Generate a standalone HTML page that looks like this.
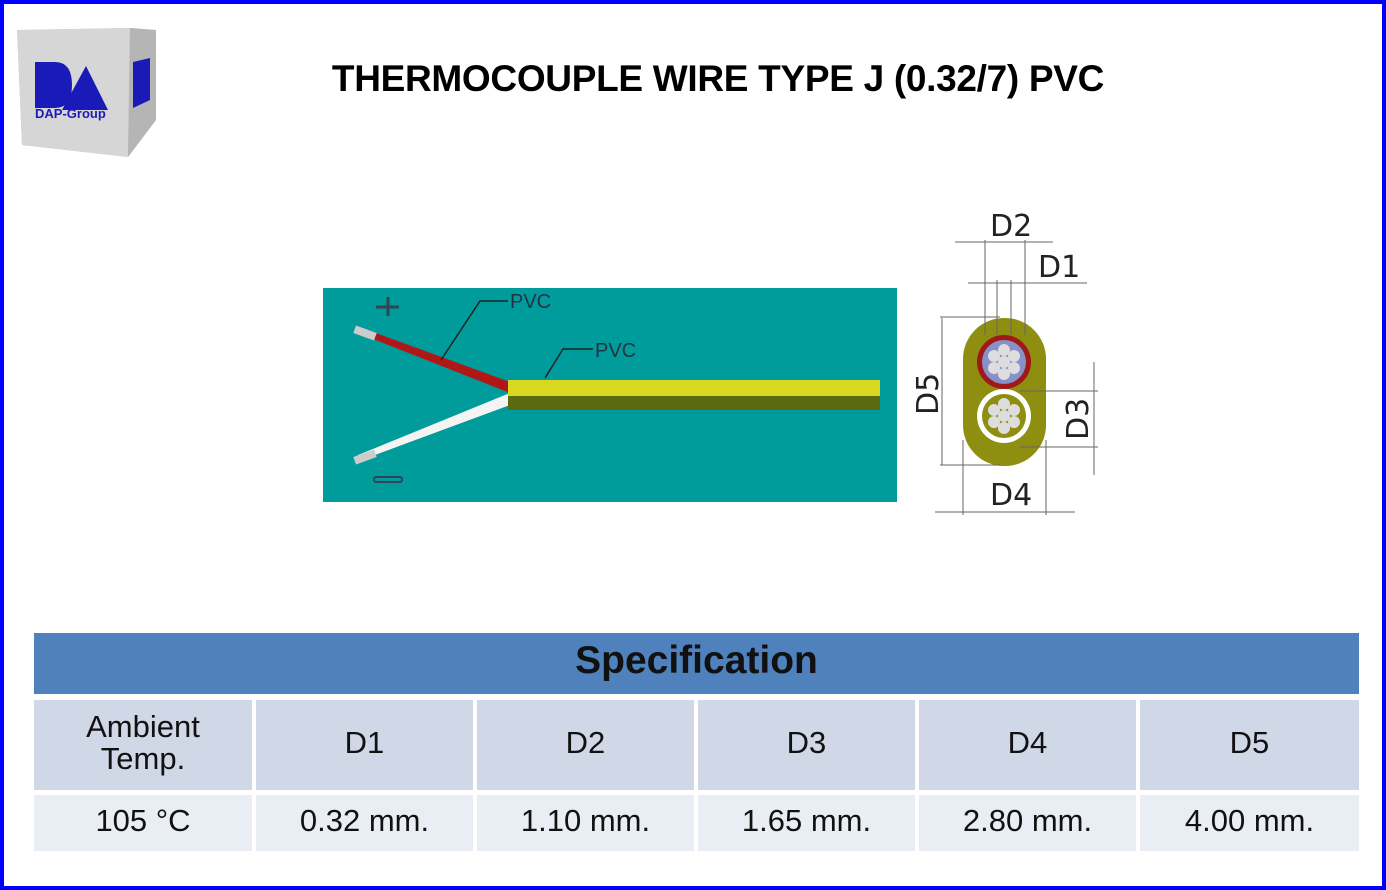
<!DOCTYPE html>
<html><head><meta charset="utf-8"><style>
body{margin:0;width:1386px;height:890px;overflow:hidden;background:#fff;font-family:"Liberation Sans",sans-serif}
.frame{position:absolute;left:0;top:0;width:1378px;height:882px;border:4px solid #0000ff}
.title{position:absolute;top:58px;text-align:center;font-weight:bold;font-size:37px;letter-spacing:-0.3px}
.cell{position:absolute;display:flex;align-items:center;justify-content:center;text-align:center;font-size:31px;color:#111;line-height:32px;box-sizing:border-box;padding-bottom:5px}
</style></head><body>
<div class="frame"></div>
<svg style="position:absolute;left:0;top:0" width="1386" height="890">
<polygon points="17,30 130,28 155,30 156,120 128,157 22,145" fill="#c8c8c8"/>
<polygon points="17,30 130,28 128,157 22,145" fill="#d6d6d6"/>
<polygon points="130,28 156,30 156,120 128,157" fill="#b5b5b5"/>
<path d="M35,62 L55,62 Q72,62 72,85 Q72,108 55,108 L35,108 Z" fill="#1a1ab8"/>
<polygon points="86,66 108,110 62,110" fill="#1a1ab8"/>
<text x="35" y="118" font-size="13" font-weight="bold" fill="#1a1ab8" font-family="Liberation Sans">DAP-Group</text>
<polygon points="133,62 150,58 150,100 133,108" fill="#1a1ab8"/>
<rect x="323" y="288" width="574" height="214" fill="#009b9b"/>
<polygon points="358,333 362,328 510,382 510,393" fill="#b01818"/>
<polygon points="358,455 356,462 510,405 510,393" fill="#f4f4f4"/>
<rect x="354" y="329" width="22" height="8" fill="#ccc" transform="rotate(20 365 333)"/>
<rect x="354" y="453" width="22" height="8" fill="#ccc" transform="rotate(-20 365 457)"/>
<rect x="508" y="380" width="372" height="18" fill="#d8d820"/>
<rect x="508" y="396" width="372" height="14" fill="#5a6a10"/>
<line x1="388" y1="297" x2="388" y2="316" stroke="#345" stroke-width="3"/>
<line x1="376" y1="307" x2="399" y2="307" stroke="#345" stroke-width="3"/>
<rect x="374" y="477" width="28" height="5" rx="2" fill="none" stroke="#345" stroke-width="2"/>
<polyline points="441,360 480,301 508,301" fill="none" stroke="#222" stroke-width="1.5"/>
<polyline points="545,378 563,349 593,349" fill="none" stroke="#222" stroke-width="1.5"/>
<text x="510" y="308" font-size="20" fill="#234">PVC</text>
<text x="595" y="357" font-size="20" fill="#234">PVC</text>
<rect x="963" y="318" width="83" height="148" rx="41" fill="#8e8e10"/>
<circle cx="1004" cy="362" r="27" fill="#a01818"/>
<circle cx="1004" cy="362" r="22" fill="#8890c8"/>
<circle cx="1004" cy="416" r="27" fill="#fff"/>
<circle cx="1004" cy="416" r="22" fill="#8e8e10"/>
<g fill="#ddd">
<circle cx="1004" cy="362" r="6"/><circle cx="1004" cy="350" r="6"/><circle cx="1004" cy="374" r="6"/><circle cx="994" cy="356" r="6"/><circle cx="1014" cy="356" r="6"/><circle cx="994" cy="368" r="6"/><circle cx="1014" cy="368" r="6"/>
<circle cx="1004" cy="416" r="6"/><circle cx="1004" cy="404" r="6"/><circle cx="1004" cy="428" r="6"/><circle cx="994" cy="410" r="6"/><circle cx="1014" cy="410" r="6"/><circle cx="994" cy="422" r="6"/><circle cx="1014" cy="422" r="6"/>
</g>
<g stroke="#666" stroke-width="1" fill="none">
<line x1="955" y1="242" x2="1053" y2="242"/><line x1="968" y1="283" x2="1087" y2="283"/>
<line x1="985" y1="240" x2="985" y2="335"/><line x1="1025" y1="240" x2="1025" y2="335"/>
<line x1="997" y1="280" x2="997" y2="335"/><line x1="1011" y1="280" x2="1011" y2="335"/>
<line x1="940" y1="317" x2="1000" y2="317"/><line x1="940" y1="465" x2="1000" y2="465"/>
<line x1="942" y1="318" x2="942" y2="465"/>
<line x1="1020" y1="391" x2="1098" y2="391"/><line x1="1020" y1="447" x2="1098" y2="447"/>
<line x1="1094" y1="362" x2="1094" y2="475"/>
<line x1="963" y1="440" x2="963" y2="515"/><line x1="1046" y1="440" x2="1046" y2="515"/>
<line x1="935" y1="512" x2="1075" y2="512"/>
</g>
<g font-size="30" fill="#222" font-family="DejaVu Sans">
<text x="990" y="236">D2</text><text x="1038" y="277">D1</text><text x="990" y="505">D4</text>
<text transform="translate(938,415) rotate(-90)">D5</text>
<text transform="translate(1088,440) rotate(-90)">D3</text>
</g>
</svg>
<div class="title" style="left:0;width:1436px">THERMOCOUPLE WIRE TYPE J (0.32/7) PVC</div>
<div class="cell" style="left:34px;top:633px;width:1325px;height:61px;background:#4f81bd;font-weight:bold;font-size:39px">Specification</div>
<div class="cell" style="left:34px;top:700px;width:218px;height:90px;background:#d0d8e8">Ambient<br>Temp.</div>
<div class="cell" style="left:256px;top:700px;width:217px;height:90px;background:#d0d8e8">D1</div>
<div class="cell" style="left:477px;top:700px;width:217px;height:90px;background:#d0d8e8">D2</div>
<div class="cell" style="left:698px;top:700px;width:217px;height:90px;background:#d0d8e8">D3</div>
<div class="cell" style="left:919px;top:700px;width:217px;height:90px;background:#d0d8e8">D4</div>
<div class="cell" style="left:1140px;top:700px;width:219px;height:90px;background:#d0d8e8">D5</div>
<div class="cell" style="left:34px;top:795px;width:218px;height:56px;background:#e9edf4">105 °C</div>
<div class="cell" style="left:256px;top:795px;width:217px;height:56px;background:#e9edf4">0.32 mm.</div>
<div class="cell" style="left:477px;top:795px;width:217px;height:56px;background:#e9edf4">1.10 mm.</div>
<div class="cell" style="left:698px;top:795px;width:217px;height:56px;background:#e9edf4">1.65 mm.</div>
<div class="cell" style="left:919px;top:795px;width:217px;height:56px;background:#e9edf4">2.80 mm.</div>
<div class="cell" style="left:1140px;top:795px;width:219px;height:56px;background:#e9edf4">4.00 mm.</div>
</body></html>
